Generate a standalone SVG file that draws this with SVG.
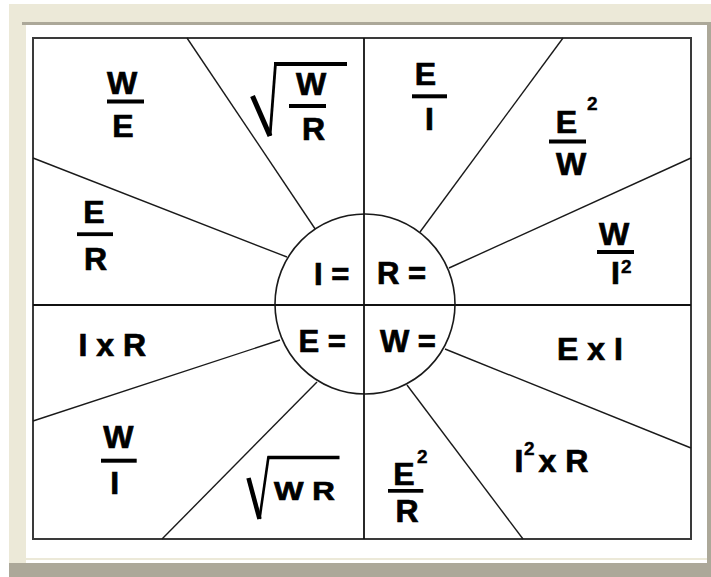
<svg xmlns="http://www.w3.org/2000/svg" width="711" height="577" viewBox="0 0 711 577">
<style>
.t{font-family:"Liberation Sans",Arial,sans-serif;font-weight:bold;fill:#000;stroke:#000;stroke-width:0.7;font-size:32px}
.m{text-anchor:middle}
.c{font-size:31px}
.s{font-size:19px;stroke-width:0.4}
.ln{stroke:#1a1a1a;stroke-width:1.4;fill:none}
.ax{stroke:#111;stroke-width:1.8;fill:none}
.bar{fill:#000}
.rad{stroke:#000;fill:none;stroke-linecap:butt;stroke-linejoin:miter}
</style>
<rect x="0" y="0" width="711" height="577" fill="#fff"/>
<rect x="9" y="4" width="702" height="18" fill="#ECE9D8"/>
<rect x="9" y="4" width="17" height="559" fill="#ECE9D8"/>
<rect x="22" y="22" width="685" height="3" fill="#ACA899"/>
<rect x="707" y="22" width="4" height="555" fill="#ACA899"/>
<rect x="26" y="558" width="681" height="2" fill="#ECE9D8"/>
<rect x="9" y="563" width="702" height="14" fill="#ACA899"/>
<rect id="frame" x="33" y="38" width="658" height="501" fill="#fff" stroke="#3a3a3a" stroke-width="2"/>
<g id="connectors">
<line class="ax" x1="364" y1="38" x2="364" y2="539"/>
<line class="ax" x1="33" y1="305" x2="691" y2="305"/>
<line class="ln" x1="187" y1="38" x2="315.5" y2="229.5"/>
<line class="ln" x1="563" y1="38" x2="420" y2="232"/>
<line class="ln" x1="691" y1="158" x2="449" y2="268"/>
<line class="ln" x1="691" y1="448" x2="445" y2="349"/>
<line class="ln" x1="523" y1="539" x2="407" y2="385"/>
<line class="ln" x1="162" y1="539" x2="317" y2="382"/>
<line class="ln" x1="33" y1="421" x2="280" y2="340"/>
<line class="ln" x1="33" y1="158" x2="287" y2="257"/>
</g>
<g id="hub">
<circle cx="365" cy="304" r="90" fill="#fff" stroke="#1a1a1a" stroke-width="1.6"/>
<line class="ax" x1="364" y1="214" x2="364" y2="394"/>
<line class="ax" x1="275" y1="305" x2="455" y2="305"/>
<text class="t c" x="314" y="285">I =</text>
<text class="t c" x="377" y="284">R =</text>
<text class="t c" x="298.5" y="352">E =</text>
<text class="t c" x="380" y="352">W =</text>
</g>
<g id="f-w-over-e">
<text class="t m" x="122" y="94">W</text>
<rect class="bar" x="107" y="99.5" width="37" height="4"/>
<text class="t m" x="123" y="137">E</text>
</g>
<g id="f-sqrt-w-over-r">
<path class="rad" d="M252.5 96 L270 136" stroke-width="5"/>
<path class="rad" d="M270 136 L275.5 63.5" stroke-width="2.8"/>
<path class="rad" d="M274 64 L347 64" stroke-width="4"/>
<text class="t m" x="311" y="95">W</text>
<rect class="bar" x="289" y="104" width="37" height="4"/>
<text class="t m" x="313.5" y="140">R</text>
</g>
<g id="f-e-over-i">
<text class="t m" x="425.5" y="85">E</text>
<rect class="bar" x="412" y="94.3" width="35" height="4"/>
<text class="t m" x="429.5" y="129.5">I</text>
</g>
<g id="f-e2-over-w">
<text class="t m" x="566.5" y="133.3">E</text>
<text class="t s" x="587" y="110">2</text>
<rect class="bar" x="549" y="139.5" width="37" height="4"/>
<text class="t m" x="571" y="175">W</text>
</g>
<g id="f-e-over-r">
<text class="t m" x="94" y="223.3">E</text>
<rect class="bar" x="77" y="232.3" width="36" height="3.8"/>
<text class="t m" x="95.5" y="270">R</text>
</g>
<g id="f-w-over-i2">
<text class="t m" x="614" y="245">W</text>
<rect class="bar" x="597" y="250" width="37" height="4"/>
<text class="t m" x="615.5" y="284">I</text>
<text class="t s" x="621" y="273.3">2</text>
</g>
<g id="f-i-x-r">
<text class="t" x="78.5" y="356">I x R</text>
</g>
<g id="f-e-x-i">
<text class="t" x="557" y="360">E x I</text>
</g>
<g id="f-w-over-i">
<text class="t m" x="118.3" y="448.3">W</text>
<rect class="bar" x="101" y="458.7" width="35.7" height="4"/>
<text class="t m" x="114.8" y="494.3">I</text>
</g>
<g id="f-sqrt-wr">
<path class="rad" d="M248.5 478 L259.5 519" stroke-width="4.5"/>
<path class="rad" d="M259.5 519 L268.5 456.5" stroke-width="2.6"/>
<path class="rad" d="M267.5 457.5 L339.5 457.5" stroke-width="3.5"/>
<text class="t" transform="translate(274 500) scale(1.25 1)" x="0" y="0" style="font-size:25px">W R</text>
</g>
<g id="f-e2-over-r">
<text class="t m" x="404" y="485">E</text>
<text class="t s" x="417" y="463.3">2</text>
<rect class="bar" x="388" y="489" width="35.3" height="3.7"/>
<text class="t m" x="407" y="521.7">R</text>
</g>
<g id="f-i2-x-r">
<text class="t" x="514.5" y="471.7">I</text>
<text class="t s" x="524" y="455">2</text>
<text class="t" x="538.5" y="471.7">x R</text>
</g>
</svg>
